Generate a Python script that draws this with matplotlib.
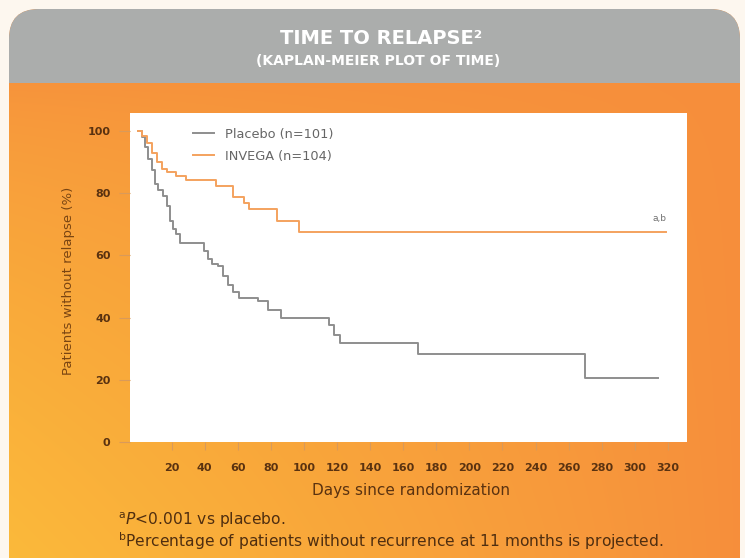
import numpy as np
import matplotlib

matplotlib.use("Agg")

import matplotlib.pyplot as plt
from matplotlib.patches import FancyBboxPatch, Rectangle

plt.rcParams["font.family"] = ["DejaVu Sans"]
plt.rcParams["mathtext.fontset"] = "dejavusans"

# Kaplan-Meier steps (day, % after the step)
placebo_days = [0, 2, 4, 6, 8, 10, 12, 15, 17, 19, 21, 23, 25, 39.5, 42, 44.5, 48,
                51, 54, 57, 60.5, 72, 78, 86, 115, 118, 122, 169, 270, 314]
placebo_pct = [100, 98, 95, 91, 87.5, 83, 81, 79, 76, 71, 68.4, 66.8, 64.1, 61.5, 59,
               57.4, 56.6, 53.5, 50.5, 48.2, 46.3, 45.3, 42.6, 39.9, 37.5, 34.5, 31.8,
               28.3, 20.7, 20.7]
invega_days = [0, 2, 5, 8, 11, 14, 17, 23, 29, 47, 57, 64, 67, 84, 97, 319]
invega_pct = [100, 98.5, 96, 93, 90, 87.7, 86.7, 85.6, 84.2, 82.4, 78.7, 77, 74.8,
              71, 67.5, 67.5]

placebo_label = "Placebo (n=101)"
invega_label = "INVEGA (n=104)"
x_ticks = list(range(20, 321, 20))
y_ticks = [0, 20, 40, 60, 80, 100]

W, H = 745, 558
fig = plt.figure(figsize=(W / 100, H / 100), dpi=100)
fig.patch.set_facecolor("#fdf7ef")

# background panel: gray header + orange gradient body
bg = fig.add_axes([0, 0, 1, 1])
bg.set_xlim(0, W)
bg.set_ylim(H, 0)
bg.axis("off")

panel = FancyBboxPatch((9, 9), 731, 640, boxstyle="round,pad=0,rounding_size=30",
                       facecolor="none", edgecolor="none")
bg.add_patch(panel)

xs = np.linspace(0, 1, W)
ys = np.linspace(0, 1, H)
xx, yy = np.meshgrid(xs, ys)
v = np.clip((yy - 0.12) / 0.88, 0, 1) ** 0.6 * (1 - xx) ** 0.9
orange = np.array([246, 142, 60]) / 255
yellow = np.array([251, 186, 58]) / 255
img = orange + v[..., None] * (yellow - orange)
im = bg.imshow(img, extent=(0, W, H, 0), aspect="auto", zorder=1)
im.set_clip_path(panel)

header = Rectangle((0, 0), W, 83, facecolor="#abadac", edgecolor="none", zorder=2)
bg.add_patch(header)
header.set_clip_path(panel)

bg.text(381, 38, "TIME TO RELAPSE\u00b2", color="white", fontsize=14,
        fontweight="bold", ha="center", va="center", zorder=3)
bg.text(378, 61, "(KAPLAN-MEIER PLOT OF TIME)", color="white", fontsize=10,
        fontweight="bold", ha="center", va="center", zorder=3)

bg.text(411, 491, "Days since randomization", color="#5a3210", fontsize=11,
        ha="center", va="center", zorder=3)
bg.text(118, 520, r"$^{\mathrm{a}}\mathit{P}$<0.001 vs placebo.", color="#4f2e10",
        fontsize=11.2, ha="left", va="center", zorder=3)
bg.text(118, 541, r"$^{\mathrm{b}}$Percentage of patients without recurrence at 11 months is projected.",
        color="#4f2e10", fontsize=11.2, ha="left", va="center", zorder=3)

# main plot
left, right, top, bottom = 130, 687, 113, 442
ax = fig.add_axes([left / W, 1 - bottom / H, (right - left) / W, (bottom - top) / H])
ax.set_facecolor("white")
ax.step(placebo_days, placebo_pct, where="post", color="#8e8e8e", lw=1.4, label=placebo_label)
ax.step(invega_days, invega_pct, where="post", color="#f4a25e", lw=1.4, label=invega_label)
ax.set_xlim(-5.1, 331.5)
ax.set_ylim(0, 105.8)
ax.set_xticks(x_ticks)
ax.set_yticks(y_ticks)
for s in ax.spines.values():
    s.set_visible(False)
ax.tick_params(axis="both", colors="#d99a5a", labelcolor="#5a3210", labelsize=8)
ax.tick_params(axis="y", length=8, pad=6)
ax.tick_params(axis="x", length=6, pad=9)
for lab in ax.get_xticklabels() + ax.get_yticklabels():
    lab.set_fontweight("bold")
ax.set_ylabel("Patients without relapse (%)", color="#7a4512", fontsize=9.5)
ax.yaxis.set_label_coords(-0.099, 0.49)

ax.text(315, 70.5, "a,b", color="#707070", fontsize=6.5, ha="center", va="bottom")

leg = ax.legend(loc="upper left", bbox_to_anchor=(0.113, 0.955), frameon=False,
                fontsize=9.3, handlelength=1.6, handletextpad=0.9, labelspacing=0.7,
                borderpad=0, borderaxespad=0)
for t in leg.get_texts():
    t.set_color("#666666")

fig.savefig("out.png", dpi=100, facecolor=fig.get_facecolor())
